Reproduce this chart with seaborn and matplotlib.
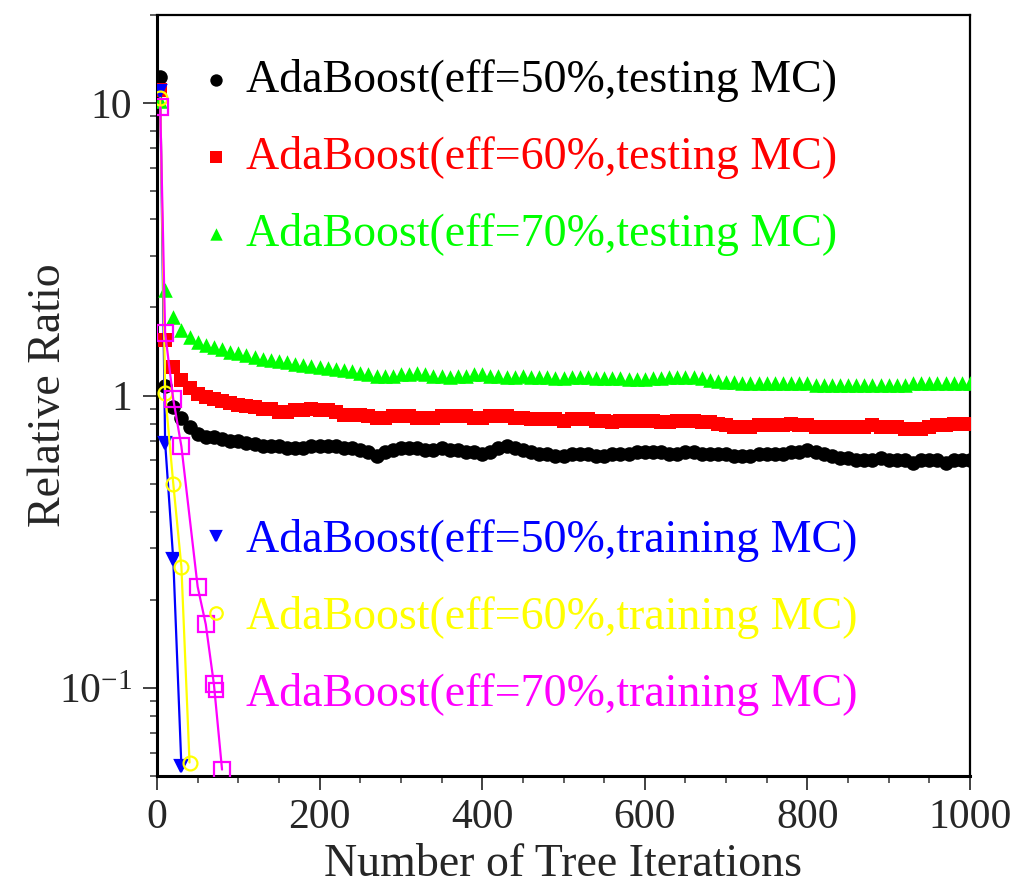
import matplotlib
matplotlib.use("Agg")
import matplotlib.pyplot as plt
import matplotlib.ticker as mticker
import seaborn as sns
import pandas as pd

# ---------------- data ----------------
iter_test = [4] + list(range(10, 1001, 10))

eff50_test = [12.3,
    1.08, 0.91, 0.84, 0.78, 0.74, 0.72, 0.72, 0.71, 0.70, 0.70,
    0.69, 0.68, 0.67, 0.67, 0.67, 0.66, 0.66, 0.66, 0.67, 0.67,
    0.67, 0.67, 0.66, 0.66, 0.65, 0.64, 0.62, 0.64, 0.65, 0.66,
    0.66, 0.66, 0.65, 0.65, 0.66, 0.65, 0.65, 0.64, 0.64, 0.63,
    0.64, 0.66, 0.67, 0.66, 0.65, 0.64, 0.63, 0.63, 0.62, 0.62,
    0.63, 0.63, 0.63, 0.62, 0.62, 0.63, 0.63, 0.63, 0.64, 0.64,
    0.64, 0.64, 0.63, 0.63, 0.64, 0.64, 0.63, 0.63, 0.63, 0.63,
    0.62, 0.62, 0.62, 0.63, 0.63, 0.63, 0.63, 0.64, 0.64, 0.65,
    0.64, 0.63, 0.62, 0.61, 0.61, 0.60, 0.60, 0.60, 0.61, 0.60,
    0.60, 0.60, 0.59, 0.60, 0.60, 0.60, 0.59, 0.60, 0.60, 0.60]

eff60_test = [11.1,
    1.55, 1.25, 1.13, 1.06, 1.01, 0.99, 0.97, 0.96, 0.94, 0.93,
    0.92, 0.91, 0.90, 0.90, 0.88, 0.88, 0.89, 0.89, 0.90, 0.89,
    0.89, 0.88, 0.86, 0.86, 0.86, 0.85, 0.84, 0.84, 0.85, 0.85,
    0.85, 0.84, 0.84, 0.84, 0.85, 0.85, 0.85, 0.85, 0.84, 0.84,
    0.85, 0.85, 0.85, 0.84, 0.84, 0.83, 0.83, 0.83, 0.83, 0.82,
    0.83, 0.83, 0.83, 0.82, 0.82, 0.81, 0.82, 0.82, 0.82, 0.82,
    0.82, 0.81, 0.81, 0.82, 0.82, 0.82, 0.81, 0.81, 0.80, 0.79,
    0.78, 0.78, 0.78, 0.79, 0.79, 0.79, 0.79, 0.80, 0.79, 0.79,
    0.78, 0.78, 0.78, 0.78, 0.78, 0.78, 0.78, 0.79, 0.78, 0.78,
    0.78, 0.77, 0.77, 0.77, 0.78, 0.79, 0.79, 0.80, 0.80, 0.80]

eff70_test = [10.2,
    2.30, 1.86, 1.68, 1.59, 1.52, 1.49, 1.47, 1.44, 1.41, 1.40,
    1.38, 1.35, 1.33, 1.32, 1.31, 1.30, 1.28, 1.27, 1.26, 1.25,
    1.24, 1.23, 1.22, 1.21, 1.19, 1.18, 1.17, 1.17, 1.17, 1.18,
    1.18, 1.19, 1.18, 1.17, 1.17, 1.16, 1.17, 1.17, 1.18, 1.18,
    1.17, 1.17, 1.16, 1.16, 1.17, 1.16, 1.16, 1.16, 1.15, 1.15,
    1.16, 1.16, 1.16, 1.15, 1.15, 1.15, 1.15, 1.14, 1.14, 1.14,
    1.15, 1.15, 1.16, 1.16, 1.16, 1.16, 1.15, 1.13, 1.12, 1.11,
    1.11, 1.10, 1.10, 1.10, 1.10, 1.10, 1.10, 1.10, 1.10, 1.10,
    1.09, 1.09, 1.09, 1.09, 1.09, 1.09, 1.09, 1.09, 1.09, 1.09,
    1.09, 1.09, 1.10, 1.10, 1.10, 1.10, 1.10, 1.10, 1.10, 1.10]

iter_train50 = [4, 10, 20, 30]
eff50_train = [11.0, 0.69, 0.275, 0.054]
iter_train60 = [4, 10, 20, 30, 40]
eff60_train = [10.4, 1.02, 0.50, 0.26, 0.0556]
iter_train70 = [4, 10, 20, 30, 50, 60, 70, 80]
eff70_train = [9.66, 1.64, 0.97, 0.67, 0.222, 0.165, 0.103, 0.0526]

labels_test = ["AdaBoost(eff=50%,testing MC)",
               "AdaBoost(eff=60%,testing MC)",
               "AdaBoost(eff=70%,testing MC)"]
labels_train = ["AdaBoost(eff=50%,training MC)",
                "AdaBoost(eff=60%,training MC)",
                "AdaBoost(eff=70%,training MC)"]

x_ticks = [0, 200, 400, 600, 800, 1000]
y_ticks = [0.1, 1, 10]
y_ticklabels = ["10$^{-1}$", "1", "10"]
x_label = "Number of Tree Iterations"
y_label = "Relative Ratio"

# ---------------- style ----------------
sns.set_style("ticks")
plt.rcParams["font.family"] = ["Liberation Serif", "DejaVu Serif"]
plt.rcParams["mathtext.fontset"] = "custom"
plt.rcParams["mathtext.rm"] = "Liberation Serif"
plt.rcParams["mathtext.it"] = "Liberation Serif:italic"
plt.rcParams["mathtext.bf"] = "Liberation Serif:bold"

fig = plt.figure(figsize=(10.17, 8.88), dpi=100)
ax = fig.add_axes([157 / 1017, 1 - 776 / 888, (970 - 157) / 1017, (776 - 15) / 888])

test_sets = [(eff50_test, "black", "o"), (eff60_test, "red", "s"), (eff70_test, "#00ff00", "^")]
test_handles = []
for (vals, col, mk), lab in zip(test_sets, labels_test):
    df = pd.DataFrame({"x": iter_test, "y": vals})
    sns.scatterplot(data=df, x="x", y="y", ax=ax, marker=mk, color=col,
                    s=110, linewidth=0, edgecolor=col, label=lab, legend=False,
                    zorder=3)
    test_handles.append(ax.collections[-1])

train_sets = [(iter_train50, eff50_train, "#0000ff", "v", "#0000ff", 8),
              (iter_train60, eff60_train, "#ffff00", "o", "none", 10),
              (iter_train70, eff70_train, "#ff00ff", "s", "none", 11)]
train_handles = []
for (xs, vals, col, mk, fc, ms), lab in zip(train_sets, labels_train):
    df = pd.DataFrame({"x": xs, "y": vals})
    sns.lineplot(data=df, x="x", y="y", ax=ax, color=col, marker=mk,
                 markersize=ms, markerfacecolor=fc, markeredgecolor=col,
                 markeredgewidth=1.6, linewidth=1.6, label=lab, legend=False,
                 zorder=4)
    train_handles.append(ax.get_lines()[-1])

ax.set_yscale("log")
ax.set_xlim(0, 1000)
ax.set_ylim(0.05, 20)

ax.set_xticks(x_ticks)
ax.xaxis.set_minor_locator(mticker.MultipleLocator(50))
ax.set_yticks(y_ticks)
ax.set_yticklabels(y_ticklabels)
ax.yaxis.set_minor_locator(mticker.LogLocator(base=10, subs=range(2, 10)))
ax.yaxis.set_minor_formatter(mticker.NullFormatter())

ax.tick_params(axis="both", which="major", direction="out", length=10, width=1.3,
               labelsize=30, color="#333333", top=False, right=False)
ax.tick_params(axis="both", which="minor", direction="out", length=5, width=1.1,
               color="#333333", top=False, right=False)
ax.tick_params(axis="x", pad=6)
ax.tick_params(axis="y", pad=8)

for side, lw in [("left", 2.2), ("bottom", 2.2), ("top", 1.6), ("right", 1.6)]:
    ax.spines[side].set_visible(True)
    ax.spines[side].set_linewidth(lw)
    ax.spines[side].set_color("black")

ax.set_xlabel(x_label, fontsize=33)
ax.set_ylabel(y_label, fontsize=33)
ax.xaxis.set_label_coords(0.5, -0.117)
ax.yaxis.set_label_coords(-0.133, 0.5)
ax.xaxis.label.set_va("center")
ax.yaxis.label.set_va("center")

leg_kw = dict(frameon=False, fontsize=33, handlelength=0.6, handletextpad=0.35,
              labelspacing=0.74, borderpad=0, borderaxespad=0, loc="upper left")
leg1 = ax.legend(test_handles, labels_test, bbox_to_anchor=(0.056, 0.942),
                 markerscale=0.85, **leg_kw)
for t, (_, col, _) in zip(leg1.get_texts(), test_sets):
    t.set_color(col)
ax.add_artist(leg1)
leg2 = ax.legend(train_handles, labels_train, bbox_to_anchor=(0.056, 0.338),
                 markerscale=0.9, **leg_kw)
for t, s in zip(leg2.get_texts(), train_sets):
    t.set_color(s[2])
for h in leg2.legend_handles:
    h.set_linestyle("none")

fig.savefig("out.png", dpi=100)
